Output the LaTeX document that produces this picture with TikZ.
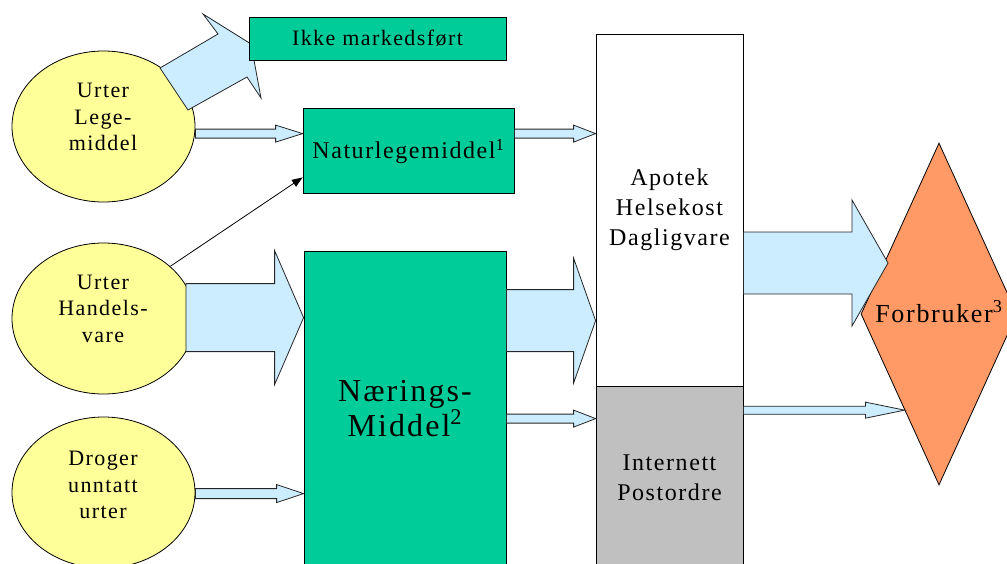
\documentclass[tikz,border=0pt]{standalone}
\usepackage{fontspec}
\setmainfont{Liberation Serif}[LetterSpace=6.5]
\usetikzlibrary{shapes.geometric,arrows.meta,calc}

\newlength\pxu
\setlength\pxu{0.75pt}

\definecolor{herbyellow}{HTML}{FFFF99}
\definecolor{boxgreen}{HTML}{00CC99}
\definecolor{flowblue}{HTML}{CCECFF}
\definecolor{shopgray}{HTML}{C0C0C0}
\definecolor{userorange}{HTML}{FF9966}

% Horizontal block arrow: #1 start (x used), #2 tip, #3 shaft half width,
% #4 head half width, #5 head length
\newcommand\flowarrow[5]{%
  \path (#2) ++(0,-#3) coordinate (fa-top) ++(0,2*#3) coordinate (fa-bot);
  \filldraw[flow] (#1 |- fa-top) -- ($(#2)+(-#5,-#3)$) -- ($(#2)+(-#5,-#4)$)
    -- (#2) -- ($(#2)+(-#5,#4)$) -- ($(#2)+(-#5,#3)$) -- (#1 |- fa-bot) -- cycle;
}

\begin{document}
\begin{tikzpicture}[x=0.75pt,y=-0.75pt,
  source/.style={ellipse, draw=black, fill=herbyellow, line width=0.6pt,
    minimum width=183\pxu, minimum height=151\pxu, inner sep=0pt},
  srctext/.style={align=center, font=\fontsize{16.5}{20}\selectfont},
  box/.style={rectangle, draw=black, line width=0.6pt, inner sep=0pt, align=center},
  greenbox/.style={box, fill=boxgreen},
  flow/.style={fill=flowblue, draw=black!85, line width=0.6pt, line join=miter},
  link/.style={draw=black, line width=0.6pt, -{Triangle[length=8pt,width=6pt]}}
]
\useasboundingbox (0,0) rectangle (1007,564);
\clip (0,0) rectangle (1007,564);

% herb sources
\node[source] (u1) at (103.5,126.5) {};
\node[source] (u2) at (103.5,318.5) {};
\node[source] (u3) at (103.5,492.5) {};

% tilted arrow towards "not marketed"
\filldraw[flow] (188,110) -- (160,68) -- (218,34) -- (203,14) -- (251,44)
  -- (261,98) -- (247,77) -- cycle;

% product categories
\node[greenbox, minimum width=257\pxu, minimum height=43\pxu,
  font=\fontsize{16.5}{20}\selectfont] (ikke) at (377.5,38.5) {Ikke markedsført};
\node[greenbox, minimum width=211\pxu, minimum height=85\pxu,
  font=\fontsize{18}{22}\selectfont, text height=12.3pt, text depth=0pt]
  (nat) at (408.5,150.5) {Naturlegemiddel\textsuperscript{1}};
\node[greenbox, minimum width=202\pxu, minimum height=315\pxu,
  font=\fontsize{24}{23}\selectfont] (nm) at (405,408.5)
  {Nærings-\\Middel\textsuperscript{2}};

% sales channels
\node[box, fill=white, minimum width=147\pxu, minimum height=352\pxu,
  font=\fontsize{18}{22.5}\selectfont] (ap) at (669.5,210)
  {Apotek\\Helsekost\\Dagligvare};
\node[box, fill=shopgray, minimum width=147\pxu, minimum height=184\pxu,
  font=\fontsize{18}{22.5}\selectfont] (int) at (669.5,478)
  {Internett\\Postordre};

% consumer
\node[diamond, draw=black, fill=userorange, line width=0.6pt, inner sep=0pt,
  minimum width=156\pxu, minimum height=342\pxu,
  label={[name=fbt, font=\fontsize{19.5}{22}\selectfont, text height=13.3pt,
    text depth=0pt]center:Forbruker\textsuperscript{3}}] (fb) at (939,314) {};

% arrow tips
\coordinate (t1) at ($(nat.north west)+(0,26)$);
\coordinate (t2) at ($(nm.north west)+(0,67)$);
\coordinate (t3) at ($(nm.north west)+(0,243)$);
\coordinate (t4) at ($(ap.north west)+(0,100)$);
\coordinate (t5) at ($(ap.north west)+(0,287)$);
\coordinate (t6) at ($(int.north west)+(0,33)$);
\coordinate (t7) at ($(fb.center)+(-51,-51)$);
\coordinate (t8) at ($(fb.west)!0.561!(fb.south)$);
\coordinate (t9) at ($(nat.south west)+(0,-16)$);

% flows
\flowarrow{u1.east}{t1}{4.5}{8.5}{27}
\flowarrow{u2.22.6}{t2}{34}{67}{29}
\flowarrow{u3.east}{t3}{5}{9}{27}
\flowarrow{nat.east}{t4}{4.5}{8.5}{22}
\flowarrow{nm.east}{t5}{31}{62.5}{22}
\flowarrow{nm.east}{t6}{4.5}{8.5}{22}
\flowarrow{ap.east}{t7}{31}{63}{36}
\flowarrow{int.east}{t8}{4}{8}{39}

\draw[link] (u2.38) -- (t9);

% source labels
\node[srctext] (u1t) at (103,117) {Urter\\Lege-\\middel};
\node[srctext] (u2t) at (103,308.7) {Urter\\Handels-\\vare};
\node[srctext] (u3t) at (103,485) {Droger\\unntatt\\urter};
\end{tikzpicture}
\end{document}
